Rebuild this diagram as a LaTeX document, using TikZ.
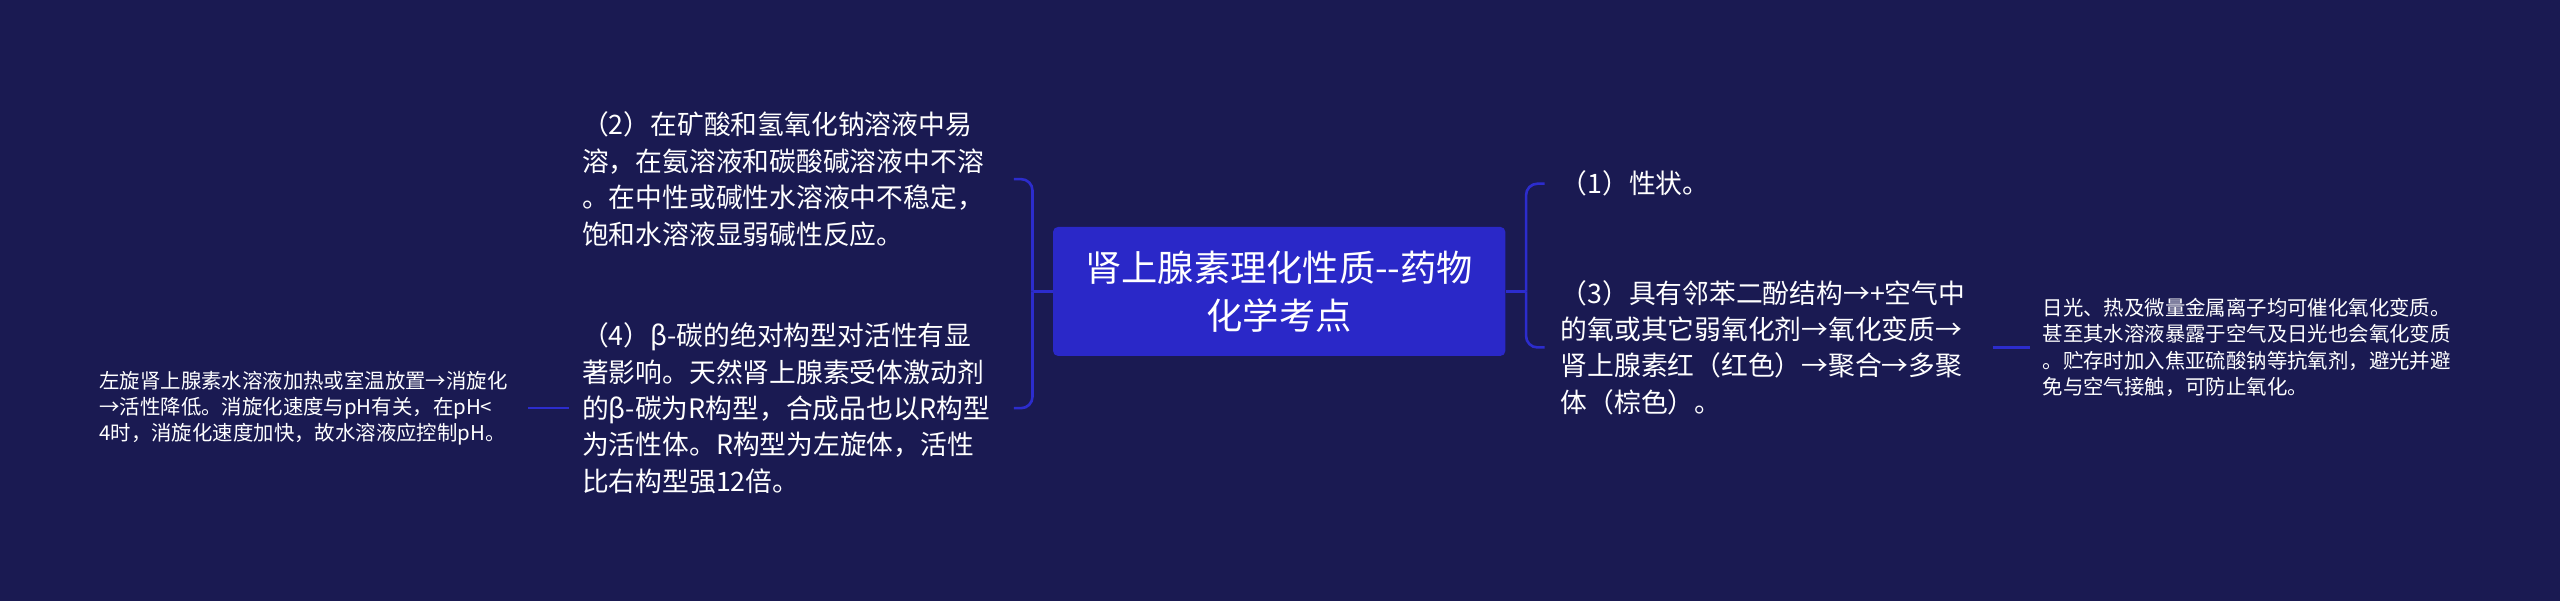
\documentclass[tikz,border=0pt]{standalone}
\usepackage{fontspec}
\setmainfont{Noto Sans CJK SC}
\usetikzlibrary{positioning}
\definecolor{bgnavy}{RGB}{26,26,82}
\definecolor{topicblue}{RGB}{42,40,200}
\definecolor{linkblue}{RGB}{44,44,205}
\tikzset{
	topic/.style={shape=rectangle, rounded corners=3pt, fill=topicblue, text=white, align=center, minimum width=277pt, minimum height=79pt, font={\fontsize{22.2}{29.3}\selectfont}},
	leaf/.style={text=white, align=left, inner ysep=0pt, font={\fontsize{16.4}{22.3}\selectfont}},
	twig/.style={text=white, align=left, inner ysep=0pt, font={\fontsize{12.5}{16.2}\selectfont}},
	link/.style={draw=linkblue, line width=1.6pt},
}
\begin{document}
\begin{tikzpicture}[x=1pt, y=-1pt]
		\useasboundingbox (0,0) rectangle (1568,368);
		\fill[bgnavy] (0,0) rectangle (1568,368);
		\node[topic] (root) at (783.5,178.5) {肾上腺素理化性质-{}-药物\\化学考点};
		% Right side
		\node[leaf, text width=254.6pt, inner xsep=9.7pt, anchor=west] (xz) at (946,112.5) {（1）性状。};
		\node[leaf, text width=254.6pt, inner xsep=9.7pt, anchor=west] (yh) at (946,212.8) {（3）具有邻苯二酚结构→+空气中\\的氧或其它弱氧化剂→氧化变质→\\肾上腺素红（红色）→聚合→多聚\\体（棕色）。};
		\node[twig, inner xsep=7.5pt, right=23pt of yh] (yhbz) {日光、热及微量金属离子均可催化氧化变质。\\甚至其水溶液暴露于空气及日光也会氧化变质\\。贮存时加入焦亚硫酸钠等抗氧剂，避光并避\\免与空气接触，可防止氧化。};
		% Left side
		\node[leaf, text width=256.2pt, inner xsep=8pt, anchor=east] (rj) at (621,109.7) {（2）在矿酸和氢氧化钠溶液中易\\溶，在氨溶液和碳酸碱溶液中不溶\\。在中性或碱性水溶液中不稳定，\\饱和水溶液显弱碱性反应。};
		\node[leaf, text width=256.2pt, inner xsep=8pt, anchor=east] (gx) at (621,250) {（4）β-碳的绝对构型对活性有显\\著影响。天然肾上腺素受体激动剂\\的β-碳为R构型，合成品也以R构型\\为活性体。R构型为左旋体，活性\\比右构型强12倍。};
		\node[twig, text width=260pt, inner xsep=2.5pt, left=24.8pt of gx] (xx) {左旋肾上腺素水溶液加热或室温放置→消旋化\\→活性降低。消旋化速度与pH有关，在pH<\\4时，消旋化速度加快，故水溶液应控制pH。};
		% Connections
		%% Right
		\draw[link] (root.east) -- ++(12.5,0) coordinate (rfork);
		\draw[link, rounded corners=7pt] (rfork) |- (xz.west);
		\draw[link, rounded corners=7pt] (rfork) |- (yh.west);
		\draw[link] (yh.east) -- (yhbz.west);
		%% Left
		\draw[link] (root.west) -- ++(-12.4,0) coordinate (lfork);
		\draw[link, rounded corners=7pt] (lfork) |- (rj.east);
		\draw[link, rounded corners=7pt] (lfork) |- (gx.east);
		\draw[link] (gx.west) -- (xx.east);
	\end{tikzpicture}
\end{document}
